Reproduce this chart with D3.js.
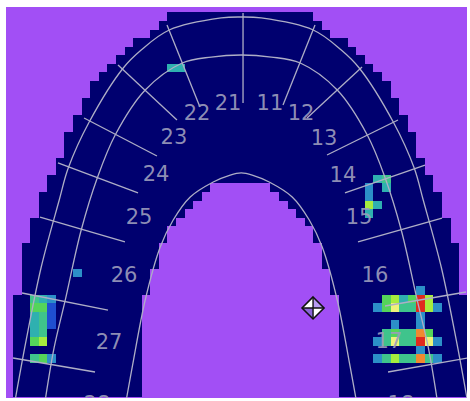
<!DOCTYPE html>
<html>
<head>
<meta charset="utf-8">
<script src="https://cdn.jsdelivr.net/npm/d3@7"></script>
<style>
  html, body { margin: 0; padding: 0; background: #ffffff; }
  svg { display: block; }
</style>
</head>
<body>
<svg id="chart" width="470" height="401"></svg>
<script>
// Sensor grid (columns x rows)
const gridCols = 53;
const gridRows = 45;

// First sensor column of the arch footprint on each row (right side mirrors it)
const outerStart = [18,17,16,14,13,12,11,10,9,9,8,8,7,7,6,6,6,5,5,4,4,3,3,3,2,2,2,1,1,1,1,1,1,0,0,0,0,0,0,0,0,0,0,0,0];
// First column of the palate gap on each row (null: no gap on that row)
const innerStart = [null,null,null,null,null,null,null,null,null,null,null,null,null,null,null,null,null,null,null,null,
  23,22,21,20,19,18,18,17,17,17,16,16,16,15,15,15,15,15,15,15,15,15,15,15,15];

// Contact readings: [column, row, force level 1..9]
const contactsRightMolars = [
  [47,32,2],
  [43,33,5],[44,33,6],[45,33,3],[46,33,5],[47,33,9],[48,33,6],
  [42,34,2],[43,34,5],[44,34,7],[45,34,4],[46,34,4],[47,34,9],[48,34,6],[49,34,2],
  [47,35,2],
  [44,36,2],[47,36,2],
  [43,37,4],[44,37,5],[45,37,4],[46,37,4],[47,37,8],[48,37,5],
  [42,38,2],[43,38,4],[44,38,7],[45,38,4],[46,38,4],[47,38,9],[48,38,7],[49,38,2],
  [47,39,2],
  [42,40,2],[43,40,4],[44,40,6],[45,40,4],[46,40,4],[47,40,8],[48,40,4],[49,40,2]
];
const contactsLeftMolars = [
  [2,33,4],[3,33,3],[4,33,2],
  [2,34,5],[3,34,5],[4,34,1],
  [2,35,3],[3,35,4],[4,35,1],
  [2,36,3],[3,36,4],[4,36,1],
  [2,37,3],[3,37,4],
  [2,38,5],[3,38,6],
  [2,40,4],[3,40,5],[4,40,2]
];
const contactsRightPremolars = [
  [42,19,3],[43,19,4],
  [41,20,2],[43,20,3],
  [41,21,2],
  [41,22,6],[42,22,3],
  [41,23,3]
];
const contactsSingle = [
  [18,6,3],[19,6,3],
  [7,30,2]
];

// Force level colour ramp
const levelDomain = [1,2,3,4,5,6,7,8,9];
const levelColors = ["#1f4fd0","#2c8fc8","#2fb0b0","#3fc48c","#55d45a","#a6ec3e","#eef27a","#f08a30","#e02a1e"];

// Arch guide curves: [row, half-width in columns] from the midline outward
const archCenter = 26.6;
const outerArch = [[0.54,0],[0.65,2.33],[2.06,8.39],[4.4,11.66],[6.5,13.75],[12.82,17.72],[18.2,20.16],[21.94,21.21],[29.78,23.31],[38.31,25.06],[45.3,26.34]];
const middleArch = [[4.98,0],[5.22,3.5],[5.92,6.88],[9.08,11.19],[14.34,14.69],[19.37,16.78],[25.45,18.65],[33.64,20.51],[39.13,21.79],[45.33,22.84]];
const innerArch = [[18.78,0],[19.02,1.28],[19.84,3.26],[21.59,5.94],[24.28,7.93],[27.44,9.44],[33.64,11.19],[41.47,12.7],[45.33,13.4]];

// Tooth boundaries: [[col, row] outer end, [col, row] inner end]
const toothDividers = [
  [[26.81,0.07],[26.81,10.6]],
  [[17.95,1.47],[21.79,11.06]],
  [[12.24,6.15],[19.11,12.58]],
  [[8.28,12.35],[16.78,16.8]],
  [[5.24,17.61],[14.57,21.12]],
  [[3.15,23.93],[13.05,26.85]],
  [[1.05,32.82],[11.07,34.81]],
  [[0,40.42],[9.56,42.06]],
  [[35.2,1.47],[31.47,10.83]],
  [[40.68,6.39],[34.27,12.35]],
  [[44.87,12.58],[36.6,16.68]],
  [[48.02,17.85],[38.69,21.12]],
  [[50.0,24.05],[40.21,26.85]],
  [[52.8,32.7],[43.36,34.34]],
  [[53.03,40.42],[43.71,42.06]]
];

// Tooth numbers and their label anchors [col, row]
const toothNumbers = ["21","11","22","12","23","13","24","14","25","15","26","16","27","17","28","18"];
const toothLabelPos = [[25.06,10.6],[29.95,10.6],[21.45,11.77],[33.57,11.77],[18.76,14.57],[36.25,14.69],
  [16.67,18.9],[38.46,19.02],[14.69,23.93],[40.33,23.93],[12.94,30.71],[42.19,30.71],
  [11.19,38.55],[43.82,38.43],[9.79,45.8],[45.22,45.8]];

// Centre of force marker [col, row]
const forceCentre = [34.97, 34.57];

const svg = d3.select("#chart");
const W = 470, H = 401;

const x = d3.scaleLinear().domain([0, gridCols]).range([13, 13 + gridCols * 8.58]);
const y = d3.scaleLinear().domain([0, gridRows]).range([12.4, 12.4 + gridRows * 8.55]);
const color = d3.scaleLinear().domain(levelDomain).range(levelColors);

// Background field
svg.append("rect").attr("x", 0).attr("y", 0).attr("width", W).attr("height", H).attr("fill", "#ffffff");
svg.append("defs").append("clipPath").attr("id", "field")
  .append("rect").attr("x", 6).attr("y", 7).attr("width", 461).attr("height", 391);
const g = svg.append("g").attr("clip-path", "url(#field)");
g.append("rect").attr("x", 6).attr("y", 7).attr("width", 461).attr("height", 391).attr("fill", "#a24ff5");

// Arch footprint: one or two runs of sensor cells per row
const runs = [];
outerStart.forEach((s, r) => {
  const e = gridCols - s;
  const i = innerStart[r];
  if (i === null) runs.push({ r, c0: s, c1: e });
  else { runs.push({ r, c0: s, c1: i }); runs.push({ r, c0: gridCols - i, c1: e }); }
});
g.append("g").attr("shape-rendering", "crispEdges")
  .selectAll("rect").data(runs).join("rect")
  .attr("x", d => x(d.c0)).attr("y", d => y(d.r))
  .attr("width", d => x(d.c1) - x(d.c0)).attr("height", d => y(d.r + 1) - y(d.r))
  .attr("fill", "#00006f");

// Contact cells
const contacts = [].concat(contactsRightMolars, contactsLeftMolars, contactsRightPremolars, contactsSingle);
g.append("g").attr("shape-rendering", "crispEdges")
  .selectAll("rect").data(contacts).join("rect")
  .attr("x", d => x(d[0])).attr("y", d => y(d[1]))
  .attr("width", d => x(d[0] + 1) - x(d[0])).attr("height", d => y(d[1] + 1) - y(d[1]))
  .attr("fill", d => color(d[2]));

// Arch guide curves
const guide = "#aeaec6";
const archLine = d3.line().x(d => x(d[0])).y(d => y(d[1])).curve(d3.curveCatmullRom.alpha(0.5));
function archPoints(profile) {
  const left = profile.slice().reverse().map(p => [archCenter - p[1], p[0]]);
  const right = profile.filter(p => p[1] > 0).map(p => [archCenter + p[1], p[0]]);
  return left.concat(right);
}
g.append("g").selectAll("path").data([outerArch, middleArch, innerArch]).join("path")
  .attr("d", d => archLine(archPoints(d)))
  .attr("fill", "none").attr("stroke", guide).attr("stroke-width", 1.3);

// Tooth dividers
g.append("g").selectAll("line").data(toothDividers).join("line")
  .attr("x1", d => x(d[0][0])).attr("y1", d => y(d[0][1]))
  .attr("x2", d => x(d[1][0])).attr("y2", d => y(d[1][1]))
  .attr("stroke", guide).attr("stroke-width", 1.3);

// Tooth numbers
g.append("g").selectAll("text").data(toothNumbers).join("text")
  .attr("x", (d, i) => x(toothLabelPos[i][0])).attr("y", (d, i) => y(toothLabelPos[i][1]))
  .attr("text-anchor", "middle").attr("dominant-baseline", "central")
  .attr("font-family", "DejaVu Sans, sans-serif").attr("font-size", 21)
  .attr("fill", "#9c9cbc").attr("fill-opacity", 0.92)
  .text(d => d);

// Centre of force marker
const s = 11;
const m = g.append("g").attr("transform", `translate(${x(forceCentre[0])},${y(forceCentre[1])})`);
const quads = [
  { p: [[0,0],[-s,0],[0,-s]], f: "#ffffff" },
  { p: [[0,0],[0,-s],[s,0]], f: "#b79af2" },
  { p: [[0,0],[s,0],[0,s]], f: "#ffffff" },
  { p: [[0,0],[0,s],[-s,0]], f: "#8a64d8" }
];
m.selectAll("path.q").data(quads).join("path").attr("class", "q")
  .attr("d", d => "M" + d.p.map(q => q.join(",")).join("L") + "Z")
  .attr("fill", d => d.f);
m.append("path").attr("d", `M0,${-s}L${s},0L0,${s}L${-s},0Z`)
  .attr("fill", "none").attr("stroke", "#111111").attr("stroke-width", 1.6);
m.append("path").attr("d", `M${-s},0H${s}M0,${-s}V${s}`)
  .attr("stroke", "#111111").attr("stroke-width", 1.4);
</script>
</body>
</html>
